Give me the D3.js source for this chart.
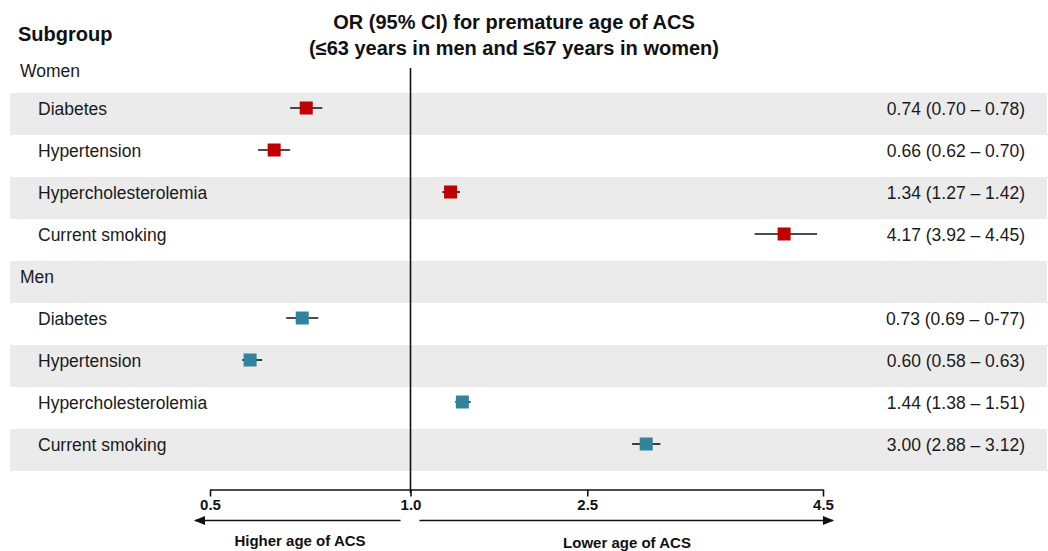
<!DOCTYPE html>
<html>
<head>
<meta charset="utf-8">
<script src="https://cdn.jsdelivr.net/npm/d3@7"></script>
<style>
  body { margin: 0; background: #fff; }
  svg { display: block; font-family: "Liberation Sans", Arial, sans-serif; }
</style>
</head>
<body>
<div id="chart"></div>
<script>
const groups = ["Women", "Men"];
const subgroups = ["Diabetes", "Hypertension", "Hypercholesterolemia", "Current smoking"];

const womenOR = [0.74, 0.66, 1.34, 4.17];
const womenLo = [0.70, 0.62, 1.27, 3.92];
const womenHi = [0.78, 0.70, 1.42, 4.45];
const womenText = ["0.74 (0.70 – 0.78)", "0.66 (0.62 – 0.70)", "1.34 (1.27 – 1.42)", "4.17 (3.92 – 4.45)"];

const menOR = [0.73, 0.60, 1.44, 3.00];
const menLo = [0.69, 0.58, 1.38, 2.88];
const menHi = [0.77, 0.63, 1.51, 3.12];
const menText = ["0.73 (0.69 – 0-77)", "0.60 (0.58 – 0.63)", "1.44 (1.38 – 1.51)", "3.00 (2.88 – 3.12)"];

const tickValues = [0.5, 1.0, 2.5, 4.5];
const groupColors = ["#c00000", "#31849b"];

const width = 1048, height = 551;

// build the rows: a header row per group, then its subgroups
const rows = [];
groups.forEach((g, gi) => {
  rows.push({ label: g, header: true, first: gi === 0 });
  const or = gi === 0 ? womenOR : menOR;
  const lo = gi === 0 ? womenLo : menLo;
  const hi = gi === 0 ? womenHi : menHi;
  const txt = gi === 0 ? womenText : menText;
  subgroups.forEach((s, i) => {
    rows.push({ label: s, header: false, or: or[i], lo: lo[i], hi: hi[i], text: txt[i], color: groupColors[gi] });
  });
});

const svg = d3.select("#chart")
  .append("svg")
  .attr("width", width)
  .attr("height", height);

// scale is linear on each side of 1.0 (piecewise, as in the figure)
const x = d3.scaleLinear()
  .domain([0.5, 1, 4.5])
  .range([210, 410.5, 823]);

const y = d3.scaleBand()
  .domain(d3.range(rows.length))
  .range([51, 471])
  .padding(0);

const mid = i => y(i) + 15;

// alternating gray bands
svg.append("g")
  .selectAll("rect")
  .data(rows)
  .join("rect")
  .attr("x", 10)
  .attr("width", 1037)
  .attr("y", (d, i) => y(i))
  .attr("height", y.bandwidth())
  .attr("fill", (d, i) => i % 2 === 1 ? "#ebebeb" : "none");

// headings
svg.append("text")
  .attr("x", 18)
  .attr("y", 41)
  .attr("font-size", 20)
  .attr("font-weight", "bold")
  .attr("fill", "#111")
  .text("Subgroup");

const title = svg.append("text")
  .attr("text-anchor", "middle")
  .attr("font-size", 20)
  .attr("font-weight", "bold")
  .attr("fill", "#111");
title.append("tspan").attr("x", 514).attr("y", 29).text("OR (95% CI) for premature age of ACS");
title.append("tspan").attr("x", 514).attr("y", 55).text("(≤63 years in men and ≤67 years in women)");

// row labels (the first header sits a little lower under the heading)
svg.append("g")
  .selectAll("text")
  .data(rows)
  .join("text")
  .attr("x", d => d.header ? 20 : 38)
  .attr("y", (d, i) => mid(i) + 7 + (d.first ? 4 : 0))
  .attr("font-size", 17.5)
  .attr("fill", "#1a1a1a")
  .text(d => d.label);

// OR (CI) text
svg.append("g")
  .selectAll("text")
  .data(rows.filter(d => !d.header))
  .join("text")
  .attr("x", 1025)
  .attr("y", d => mid(rows.indexOf(d)) + 7)
  .attr("text-anchor", "end")
  .attr("font-size", 17.5)
  .attr("fill", "#1a1a1a")
  .text(d => d.text);

// reference line at 1.0
svg.append("line")
  .attr("x1", x(1)).attr("x2", x(1))
  .attr("y1", 68).attr("y2", 493)
  .attr("stroke", "#111")
  .attr("stroke-width", 1.6);

// confidence intervals and point estimates
const marks = svg.append("g")
  .selectAll("g")
  .data(rows.filter(d => !d.header))
  .join("g")
  .attr("transform", d => `translate(0,${mid(rows.indexOf(d))})`);

marks.append("line")
  .attr("x1", d => x(d.lo))
  .attr("x2", d => x(d.hi))
  .attr("stroke", "#111")
  .attr("stroke-width", 1.6);

marks.append("rect")
  .attr("x", d => x(d.or) - 6.5)
  .attr("y", -6.5)
  .attr("width", 13)
  .attr("height", 13)
  .attr("fill", d => d.color);

// x axis
const axis = svg.append("g")
  .attr("transform", "translate(0,489.5)")
  .call(d3.axisBottom(x)
    .tickValues(tickValues)
    .tickFormat(d3.format(".1f"))
    .tickSize(7)
    .tickSizeOuter(0)
    .tickPadding(3));
axis.select(".domain").attr("stroke", "#111").attr("stroke-width", 1.6);
axis.selectAll(".tick line").attr("stroke", "#111").attr("stroke-width", 1.6);
axis.selectAll(".tick text")
  .attr("font-size", 15)
  .attr("font-weight", "bold")
  .attr("font-family", "Liberation Sans, Arial, sans-serif")
  .attr("fill", "#111");

// direction arrows
const defs = svg.append("defs");
defs.append("marker")
  .attr("id", "arrow")
  .attr("viewBox", "0 0 10 10")
  .attr("refX", 9)
  .attr("refY", 5)
  .attr("markerWidth", 7)
  .attr("markerHeight", 7)
  .attr("orient", "auto")
  .append("path")
  .attr("d", "M0,1 L10,5 L0,9 Z")
  .attr("fill", "#111");

const arrowY = 520.5;
svg.append("line")
  .attr("x1", x(1) - 10).attr("x2", x(0.5) - 15)
  .attr("y1", arrowY).attr("y2", arrowY)
  .attr("stroke", "#111").attr("stroke-width", 1.6)
  .attr("marker-end", "url(#arrow)");
svg.append("line")
  .attr("x1", x(1) + 9).attr("x2", x(4.5) + 10)
  .attr("y1", arrowY).attr("y2", arrowY)
  .attr("stroke", "#111").attr("stroke-width", 1.6)
  .attr("marker-end", "url(#arrow)");

svg.append("text")
  .attr("x", 300).attr("y", 546)
  .attr("text-anchor", "middle")
  .attr("font-size", 15).attr("font-weight", "bold").attr("fill", "#111")
  .text("Higher age of ACS");
svg.append("text")
  .attr("x", 627).attr("y", 548)
  .attr("text-anchor", "middle")
  .attr("font-size", 15).attr("font-weight", "bold").attr("fill", "#111")
  .text("Lower age of ACS");
</script>
</body>
</html>
